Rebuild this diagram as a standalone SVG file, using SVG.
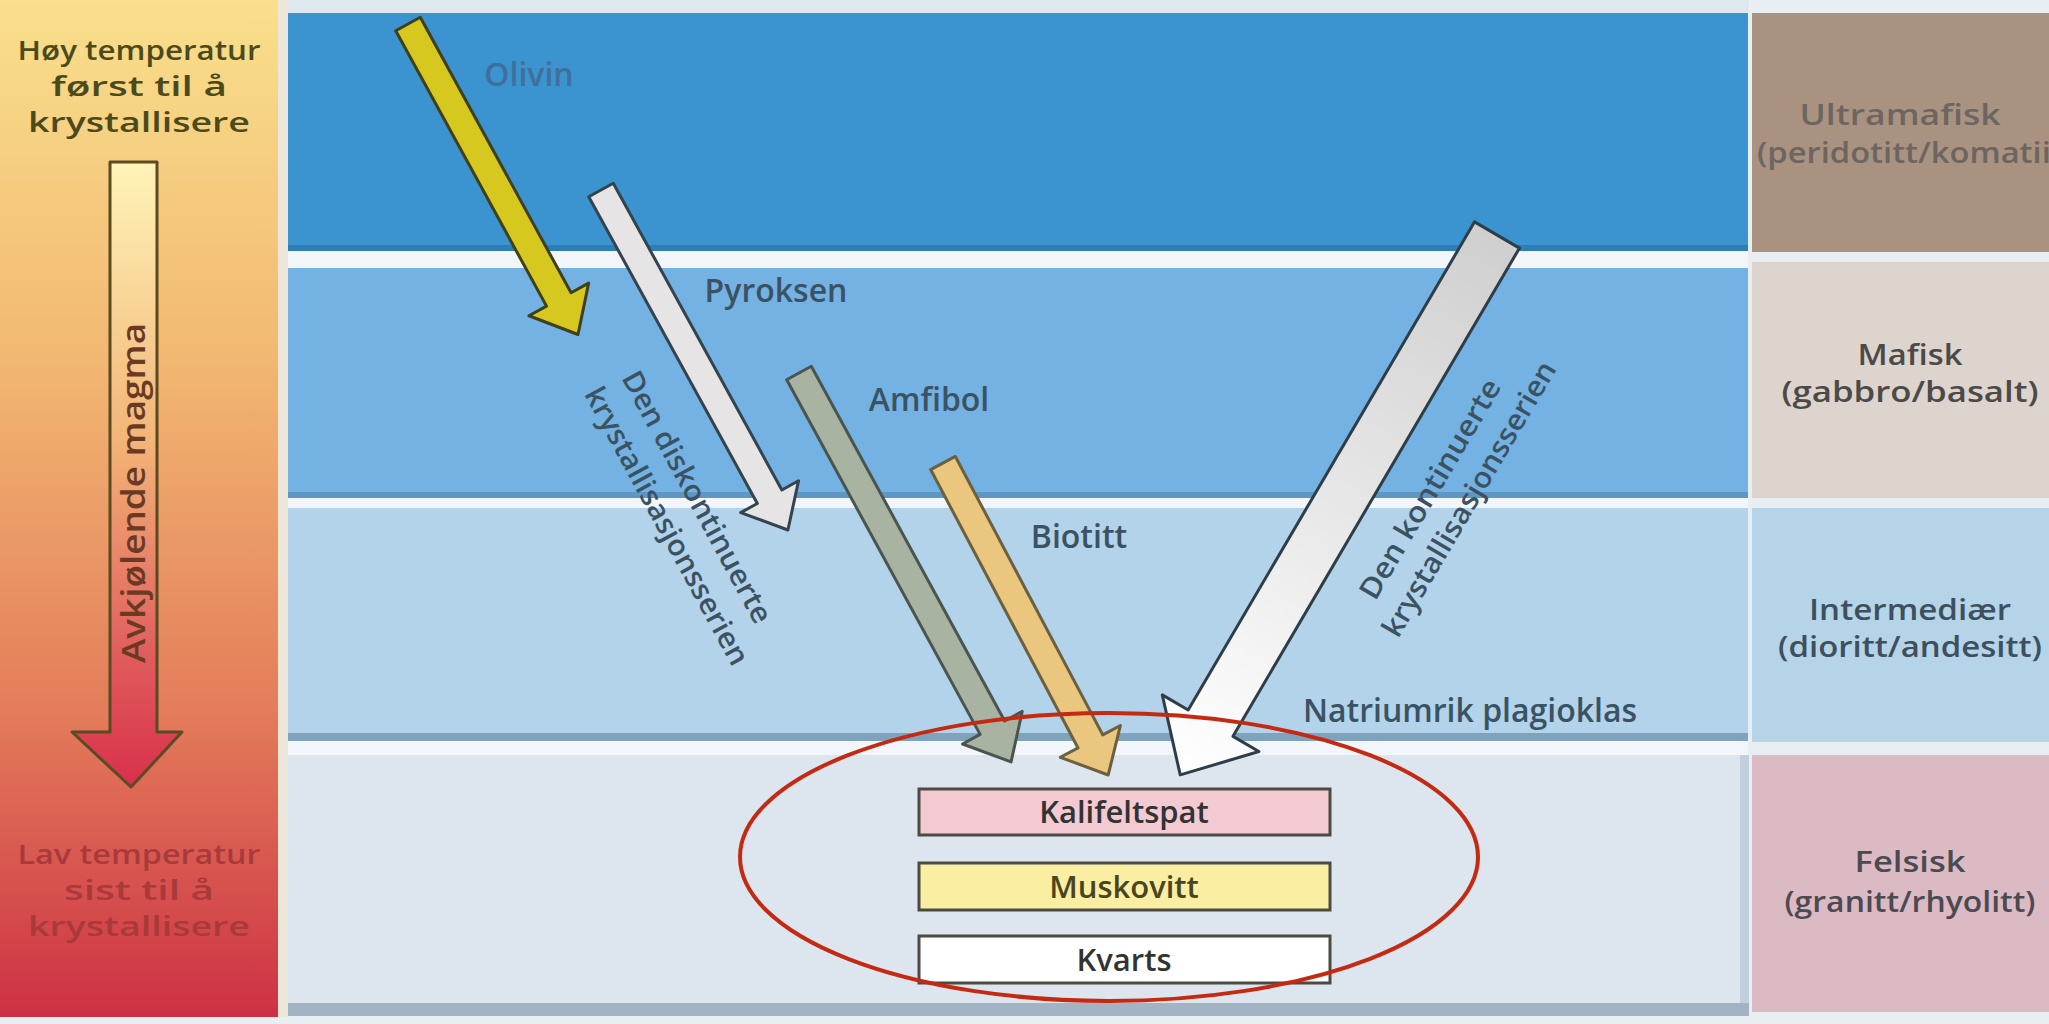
<svg xmlns="http://www.w3.org/2000/svg" width="2049" height="1024" viewBox="0 0 2049 1024">
  <defs>
    <linearGradient id="tempGrad" x1="0" y1="0" x2="0" y2="1">
      <stop offset="0" stop-color="#f9e08c"/>
      <stop offset="0.35" stop-color="#f2b872"/>
      <stop offset="0.7" stop-color="#e37c5a"/>
      <stop offset="1" stop-color="#cd3144"/>
    </linearGradient>
    <linearGradient id="shaftGrad" x1="0" y1="162" x2="0" y2="787" gradientUnits="userSpaceOnUse">
      <stop offset="0" stop-color="#fff4b8"/>
      <stop offset="0.45" stop-color="#f3b477"/>
      <stop offset="0.8" stop-color="#e05a5c"/>
      <stop offset="1" stop-color="#d8304a"/>
    </linearGradient>
    <linearGradient id="contGrad" x1="0" y1="0" x2="1" y2="0">
      <stop offset="0" stop-color="#cfcfcf"/>
      <stop offset="0.6" stop-color="#ececec"/>
      <stop offset="1" stop-color="#ffffff"/>
    </linearGradient>
    <style>
      text { font-family: "Open Sans", "Noto Sans", "Liberation Sans", sans-serif; font-weight: 600; }
      .hdr { font-size: 27px; text-anchor: middle; }
      .lbl { font-size: 32px; fill: #3b5263; text-anchor: middle; }
      .rot { font-size: 29px; fill: #3b5263; text-anchor: middle; }
      .rock { font-size: 28px; text-anchor: middle; }
      .box { stroke: #4b4b42; stroke-width: 3; }
      .boxt { font-size: 31px; text-anchor: middle; fill: #333333; }
      .arr { stroke-width: 3; stroke-linejoin: round; }
      .sep { fill: #f2f6fa; }
    </style>
  </defs>

  <!-- page background -->
  <rect x="0" y="0" width="2049" height="1024" fill="#e9eef3"/>

  <!-- temperature panel -->
  <g id="temperature-panel">
    <rect x="0" y="0" width="278" height="1017" fill="url(#tempGrad)"/>
    <rect x="278" y="0" width="10" height="1017" fill="#efe3c8" opacity="0.6"/>
    <text class="hdr" x="139" y="60" fill="#4b4a1c" textLength="243" lengthAdjust="spacingAndGlyphs">Høy temperatur</text>
    <text class="hdr" x="139" y="96" fill="#4b4a1c" textLength="176" lengthAdjust="spacingAndGlyphs">først til å</text>
    <text class="hdr" x="139" y="132" fill="#4b4a1c" textLength="222" lengthAdjust="spacingAndGlyphs">krystallisere</text>
    <path d="M110,162 L157,162 L157,732 L182,732 L131,787 L72,732 L110,732 Z" fill="url(#shaftGrad)" stroke="#5a4b22" stroke-width="3" stroke-linejoin="round"/>
    <text x="0" y="0" transform="translate(145,493) rotate(-90)" font-size="32" text-anchor="middle" fill="#6a3b22" textLength="340" lengthAdjust="spacingAndGlyphs">Avkjølende magma</text>
    <text class="hdr" x="139" y="864" fill="#a83a3c" textLength="243" lengthAdjust="spacingAndGlyphs">Lav temperatur</text>
    <text class="hdr" x="139" y="900" fill="#a83a3c" textLength="150" lengthAdjust="spacingAndGlyphs">sist til å</text>
    <text class="hdr" x="139" y="936" fill="#a83a3c" textLength="222" lengthAdjust="spacingAndGlyphs">krystallisere</text>
  </g>

  <!-- rock bands -->
  <g id="bands">
    <rect x="288" y="0" width="1461" height="13" fill="#dfe8ef"/>
    <rect x="288" y="13" width="1460" height="237" fill="#3b93cf"/>
    <rect x="288" y="245" width="1460" height="6" fill="#2f7db5"/>
    <rect class="sep" x="288" y="251" width="1460" height="17"/>
    <rect x="288" y="268" width="1460" height="229" fill="#73b2e2"/>
    <rect x="288" y="492" width="1460" height="6" fill="#5e97c4"/>
    <rect class="sep" x="288" y="498" width="1460" height="10"/>
    <rect x="288" y="508" width="1460" height="230" fill="#b2d3e9"/>
    <rect x="288" y="733" width="1460" height="8" fill="#7fa3bd"/>
    <rect class="sep" x="288" y="741" width="1460" height="14"/>
    <rect x="288" y="755" width="1452" height="248" fill="#dde5ef"/>
    <rect x="288" y="1003" width="1461" height="13" fill="#a2b3c3"/>
    <rect x="1740" y="755" width="9" height="248" fill="#c2cfdc"/>
  </g>

  <!-- rock type column -->
  <g id="ultramafisk">
    <rect x="1752" y="13" width="297" height="239" fill="#a99280"/>
    <text class="rock" x="1900" y="125" fill="#6c6560" textLength="201" lengthAdjust="spacingAndGlyphs">Ultramafisk</text>
    <text class="rock" x="1757" y="163" fill="#6c6560" style="text-anchor:start" textLength="330" lengthAdjust="spacingAndGlyphs">(peridotitt/komatiitt)</text>
  </g>
  <g id="mafisk">
    <rect x="1752" y="262" width="297" height="236" fill="#ddd4ce"/>
    <text class="rock" x="1910" y="365" fill="#4c4a48" textLength="105" lengthAdjust="spacingAndGlyphs">Mafisk</text>
    <text class="rock" x="1910" y="402" fill="#4c4a48" textLength="257" lengthAdjust="spacingAndGlyphs">(gabbro/basalt)</text>
  </g>
  <g id="intermediaer">
    <rect x="1752" y="508" width="297" height="234" fill="#b5d4e8"/>
    <text class="rock" x="1910" y="620" fill="#3e505e" textLength="202" lengthAdjust="spacingAndGlyphs">Intermediær</text>
    <text class="rock" x="1910" y="657" fill="#3e505e" textLength="264" lengthAdjust="spacingAndGlyphs">(dioritt/andesitt)</text>
  </g>
  <g id="felsisk">
    <rect x="1752" y="755" width="297" height="257" fill="#dcbac4"/>
    <text class="rock" x="1910" y="872" fill="#4a4a50" textLength="111" lengthAdjust="spacingAndGlyphs">Felsisk</text>
    <text class="rock" x="1910" y="912" fill="#4a4a50" textLength="251" lengthAdjust="spacingAndGlyphs">(granitt/rhyolitt)</text>
  </g>

  <!-- mineral labels -->
  <g id="labels">
    <text class="lbl" x="529" y="86" style="fill:#3f6f9c">Olivin</text>
    <text class="lbl" x="776" y="302">Pyroksen</text>
    <text class="lbl" x="929" y="411">Amfibol</text>
    <text class="lbl" x="1079" y="548">Biotitt</text>
    <text class="lbl" x="1470" y="722">Natriumrik plagioklas</text>
    <text class="rot" transform="translate(697,497) rotate(61.5)" x="0" y="10" textLength="282" lengthAdjust="spacingAndGlyphs">Den diskontinuerte</text>
    <text class="rot" transform="translate(667,526) rotate(61.5)" x="0" y="10" textLength="312" lengthAdjust="spacingAndGlyphs">krystallisasjonsserien</text>
    <text class="rot" transform="translate(1430,489) rotate(-59.5)" x="0" y="10" textLength="250" lengthAdjust="spacingAndGlyphs">Den kontinuerte</text>
    <text class="rot" transform="translate(1469,499) rotate(-59.5)" x="0" y="10" textLength="314" lengthAdjust="spacingAndGlyphs">krystallisasjonsserien</text>
  </g>

  <!-- crystallisation arrows -->
  <g id="arrows">
    <g id="olivin-arrow" transform="translate(408,24) rotate(61.3)">
      <path class="arr" d="M0,-14 L314,-14 L314,-34 L354,0 L314,34 L314,14 L0,14 Z" fill="#d6c81e" stroke="#3f3f1a"/>
    </g>
    <g id="pyroksen-arrow" transform="translate(601,190) rotate(61.2)">
      <path class="arr" d="M0,-14 L350,-14 L350,-33 L388,0 L350,33 L350,14 L0,14 Z" fill="#e6e4e4" stroke="#34444f"/>
    </g>
    <g id="amfibol-arrow" transform="translate(799,373) rotate(61.4)">
      <path class="arr" d="M0,-14 L404,-14 L404,-34 L443,0 L404,34 L404,14 L0,14 Z" fill="#a8b3a2" stroke="#4a5550"/>
    </g>
    <g id="biotitt-arrow" transform="translate(943,463) rotate(62.1)">
      <path class="arr" d="M0,-14 L315,-14 L315,-34 L353,0 L315,34 L315,14 L0,14 Z" fill="#eac67e" stroke="#6b6040"/>
    </g>
    <g id="plagioklas-arrow" transform="translate(1497,235) rotate(120.4)">
      <path class="arr" d="M0,-26 L566,-26 L566,-56 L626,0 L566,56 L566,26 L0,26 Z" fill="url(#contGrad)" stroke="#2e3e48"/>
    </g>
  </g>

  <!-- last minerals to crystallise -->
  <g id="kalifeltspat">
    <rect class="box" x="919" y="789" width="411" height="46" fill="#f3c9d2"/>
    <text class="boxt" x="1124" y="823">Kalifeltspat</text>
  </g>
  <g id="muskovitt">
    <rect class="box" x="919" y="863" width="411" height="47" fill="#f9eea2"/>
    <text class="boxt" x="1124" y="898" style="fill:#4a4520">Muskovitt</text>
  </g>
  <g id="kvarts">
    <rect class="box" x="919" y="936" width="411" height="47" fill="#ffffff"/>
    <text class="boxt" x="1124" y="971">Kvarts</text>
  </g>

  <!-- highlight ring -->
  <ellipse id="highlight" cx="1109" cy="857" rx="369" ry="144" fill="none" stroke="#c42a12" stroke-width="4"/>
</svg>
